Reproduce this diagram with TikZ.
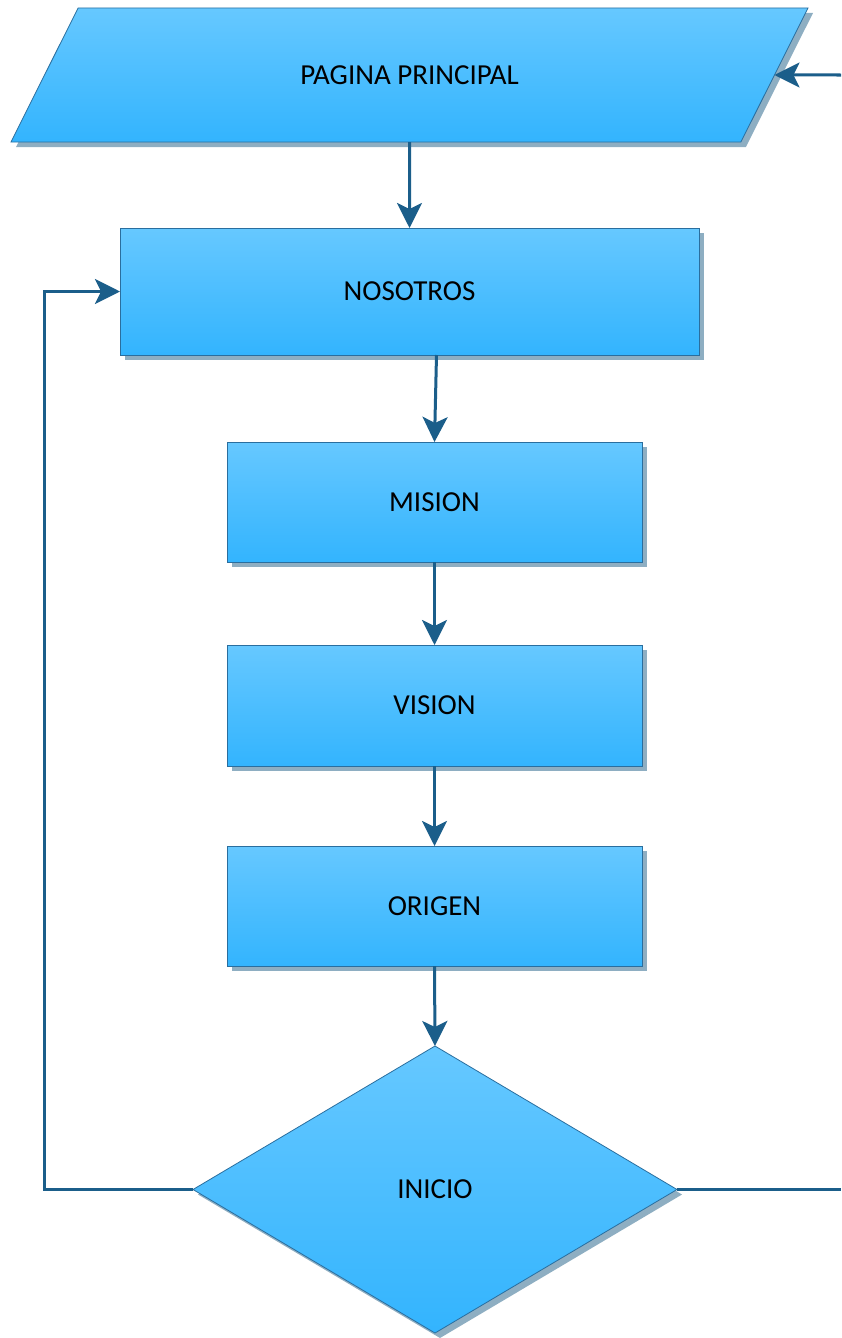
\documentclass[tikz,border=0pt]{standalone}
\usepackage{fontspec}
\setmainfont{Carlito}
\usetikzlibrary{shapes.geometric,shadows,arrows.meta}

\definecolor{boxtop}{HTML}{66C8FF}
\definecolor{boxbot}{HTML}{33B4FE}
\definecolor{boxline}{HTML}{2A6E9E}
\definecolor{shadowc}{HTML}{8EAEC2}
\definecolor{linkc}{HTML}{1B5E8A}

\tikzset{
  flowbox/.style={draw=boxline, line width=0.8pt, top color=boxtop, bottom color=boxbot,
    inner sep=0pt, outer sep=0pt, font=\fontsize{29}{32}\selectfont,
    drop shadow={shadow xshift=5pt, shadow yshift=-5pt, fill=shadowc, opacity=1}},
  procbox/.style={flowbox, rectangle},
  iobox/.style={flowbox, trapezium, trapezium left angle=63.4, trapezium right angle=116.6,
    trapezium stretches body=true, text height=19pt, text depth=0pt, inner ysep=57.5pt},
  decbox/.style={flowbox, diamond},
  link/.style={draw=linkc, line width=3pt},
  arr/.style={link, -{Stealth[length=25pt, width=25pt, inset=6pt]}},
}

\begin{document}
\begin{tikzpicture}[x=1pt, y=-1pt]
  \useasboundingbox (0,0) rectangle (841,1338);

  % shapes
  \node[iobox, minimum width=797pt] (pp) at (409.5,75) {PAGINA PRINCIPAL};
  \node[procbox, minimum width=579pt, minimum height=127pt] (nos) at (409.5,291.5) {NOSOTROS};
  \node[procbox, minimum width=415pt, minimum height=120pt] (mis) at (434.5,502) {MISION};
  \node[procbox, minimum width=415pt, minimum height=121pt] (vis) at (434.5,705.5) {VISION};
  \node[procbox, minimum width=415pt, minimum height=120pt] (ori) at (434.5,906) {ORIGEN};
  \node[decbox, minimum width=484pt, minimum height=287pt] (ini) at (435,1189.5) {INICIO};

  % free ends and the return column
  \coordinate (inR) at (841,75);
  \coordinate (outR) at (841,1189.5);
  \coordinate (loopx) at (44,0);

  % connectors
  \draw[arr] (pp.south) -- (nos.north);
  \draw[arr] ([xshift=27pt]nos.south) -- (mis.north);
  \draw[arr] (mis.south) -- (vis.north);
  \draw[arr] (vis.south) -- (ori.north);
  \draw[arr] (ori.south) -- (ini.north);
  \draw[arr] (inR) -- (pp.east);
  \draw[link] (ini.east) -- (outR);
  \draw[arr] (ini.west) -- (loopx |- ini.west) |- (nos.west);
\end{tikzpicture}
\end{document}
